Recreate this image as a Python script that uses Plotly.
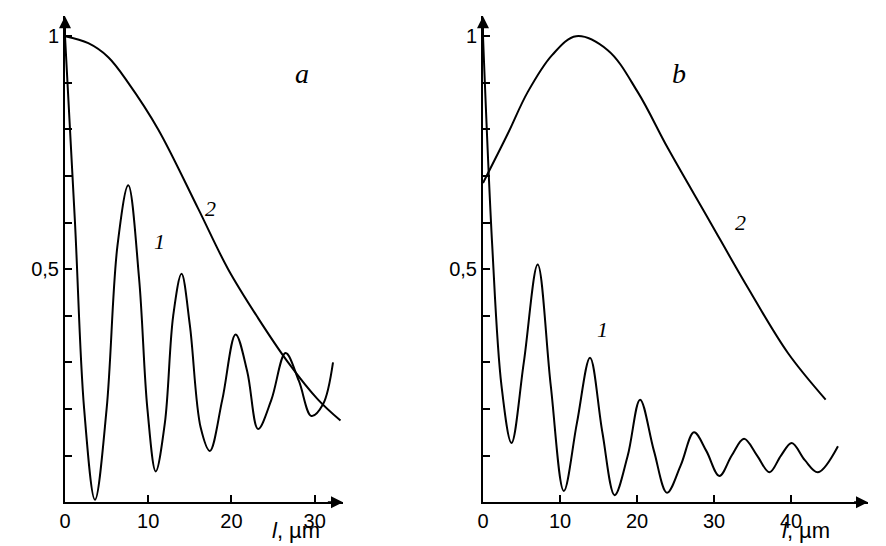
import plotly.graph_objects as go

# panel a
a1_x = [0, 1.2, 2.3, 3.6, 5.0, 6.3, 7.6, 8.9, 9.9, 10.9, 12.0, 13.0, 14.0, 15.0, 16.3, 17.4, 18.9, 20.5, 21.9, 23.2, 24.8, 26.5, 28.1, 29.6, 31.0, 32.2]
a1_y = [1.0, 0.6, 0.2, 0.005, 0.2, 0.55, 0.68, 0.48, 0.2, 0.066, 0.17, 0.4, 0.49, 0.38, 0.16, 0.11, 0.22, 0.36, 0.28, 0.157, 0.22, 0.32, 0.26, 0.185, 0.21, 0.30]
a2_x = [0, 2.8, 5.2, 7.6, 11.2, 16.0, 19.6, 23.2, 26.8, 30.4, 33.1]
a2_y = [1.0, 0.985, 0.955, 0.90, 0.80, 0.63, 0.50, 0.395, 0.30, 0.22, 0.175]

# panel b
b1_x = [0, 1.2, 2.4, 3.7, 5.3, 7.1, 8.8, 10.5, 12.2, 13.9, 15.5, 17.1, 18.8, 20.4, 22.2, 23.9, 25.7, 27.4, 29.0, 30.7, 32.3, 33.9, 35.6, 37.2, 38.7, 40.1, 41.8, 43.5, 46.1]
b1_y = [1.0, 0.55, 0.25, 0.127, 0.3, 0.51, 0.25, 0.024, 0.17, 0.31, 0.15, 0.015, 0.1, 0.22, 0.11, 0.02, 0.08, 0.15, 0.11, 0.056, 0.1, 0.136, 0.1, 0.064, 0.1, 0.127, 0.09, 0.064, 0.12]
b2_x = [0, 3.2, 5.8, 9.0, 12.1, 16.2, 20.1, 24.0, 29.2, 34.4, 39.6, 44.5]
b2_y = [0.685, 0.79, 0.88, 0.96, 1.0, 0.97, 0.88, 0.76, 0.61, 0.46, 0.32, 0.22]

y_ticks = [0.1, 0.2, 0.3, 0.4, 0.5, 0.6, 0.7, 0.8, 0.9, 1.0]
y_text = ["", "", "", "", "0,5", "", "", "", "", "1"]

FONT = "Liberation Sans"
line = dict(color="black", width=2, shape="spline", smoothing=1.0)

fig = go.Figure()
fig.add_trace(go.Scatter(x=a1_x, y=a1_y, mode="lines", line=line, xaxis="x", yaxis="y"))
fig.add_trace(go.Scatter(x=a2_x, y=a2_y, mode="lines", line=line, xaxis="x", yaxis="y"))
fig.add_trace(go.Scatter(x=b1_x, y=b1_y, mode="lines", line=line, xaxis="x2", yaxis="y2"))
fig.add_trace(go.Scatter(x=b2_x, y=b2_y, mode="lines", line=line, xaxis="x2", yaxis="y2"))

ax = dict(showgrid=False, zeroline=False, showline=True, linecolor="black", linewidth=2,
          ticks="inside", ticklen=7, tickwidth=2, tickcolor="black", automargin=False,
          tickfont=dict(family=FONT, size=20, color="black"))
fig.update_layout(
    width=886, height=546, showlegend=False,
    plot_bgcolor="white", paper_bgcolor="white",
    margin=dict(l=0, r=0, t=0, b=0, pad=0, autoexpand=False),
    xaxis=dict(ax, domain=[57 / 886, 335 / 886], range=[0, 33.4], tickvals=[0, 10, 20, 30], anchor="y"),
    yaxis=dict(ax, domain=[0.095, 0.985], range=[0, 1.043], tickvals=y_ticks, ticktext=y_text, anchor="x"),
    xaxis2=dict(ax, domain=[475 / 886, 860 / 886], range=[0, 50], tickvals=[0, 10, 20, 30, 40], anchor="y2"),
    yaxis2=dict(ax, domain=[0.095, 0.985], range=[0, 1.043], tickvals=y_ticks, ticktext=y_text, anchor="x2"),
)


def txt(xr, yr, x, y, s, size=22, family="Liberation Serif"):
    fig.add_annotation(xref=xr, yref=yr, x=x, y=y, text=f"<i>{s}</i>",
                       showarrow=False, font=dict(family=family, size=size, color="black"))


txt("x", "y", 28.5, 0.92, "a", 28)
txt("x", "y", 17.5, 0.63, "2")
txt("x", "y", 11.3, 0.56, "1")
txt("x2", "y2", 25.5, 0.92, "b", 28)
txt("x2", "y2", 33.5, 0.6, "2")
txt("x2", "y2", 15.5, 0.37, "1")
for x0 in [262, 772]:
    fig.add_annotation(xref="paper", yref="paper", x=x0 / 886, y=24 / 546, xanchor="left", yanchor="middle",
                       text="<i>l</i>, µm", showarrow=False, font=dict(family=FONT, size=22, color="black"))

# axis arrowheads
for xr, yr, xmax in [("x", "y", 33.4), ("x2", "y2", 50)]:
    fig.add_annotation(xref=xr, yref=yr, x=0, y=1.043, ax=0, ay=0.97, axref=xr, ayref=yr,
                       showarrow=True, arrowhead=2, arrowsize=1.2, arrowwidth=2, arrowcolor="black", text="")
    fig.add_annotation(xref=xr, yref=yr, x=xmax, y=0, ax=xmax - 2, ay=0, axref=xr, ayref=yr,
                       showarrow=True, arrowhead=2, arrowsize=1.2, arrowwidth=2, arrowcolor="black", text="")

fig.write_html("out.html")
